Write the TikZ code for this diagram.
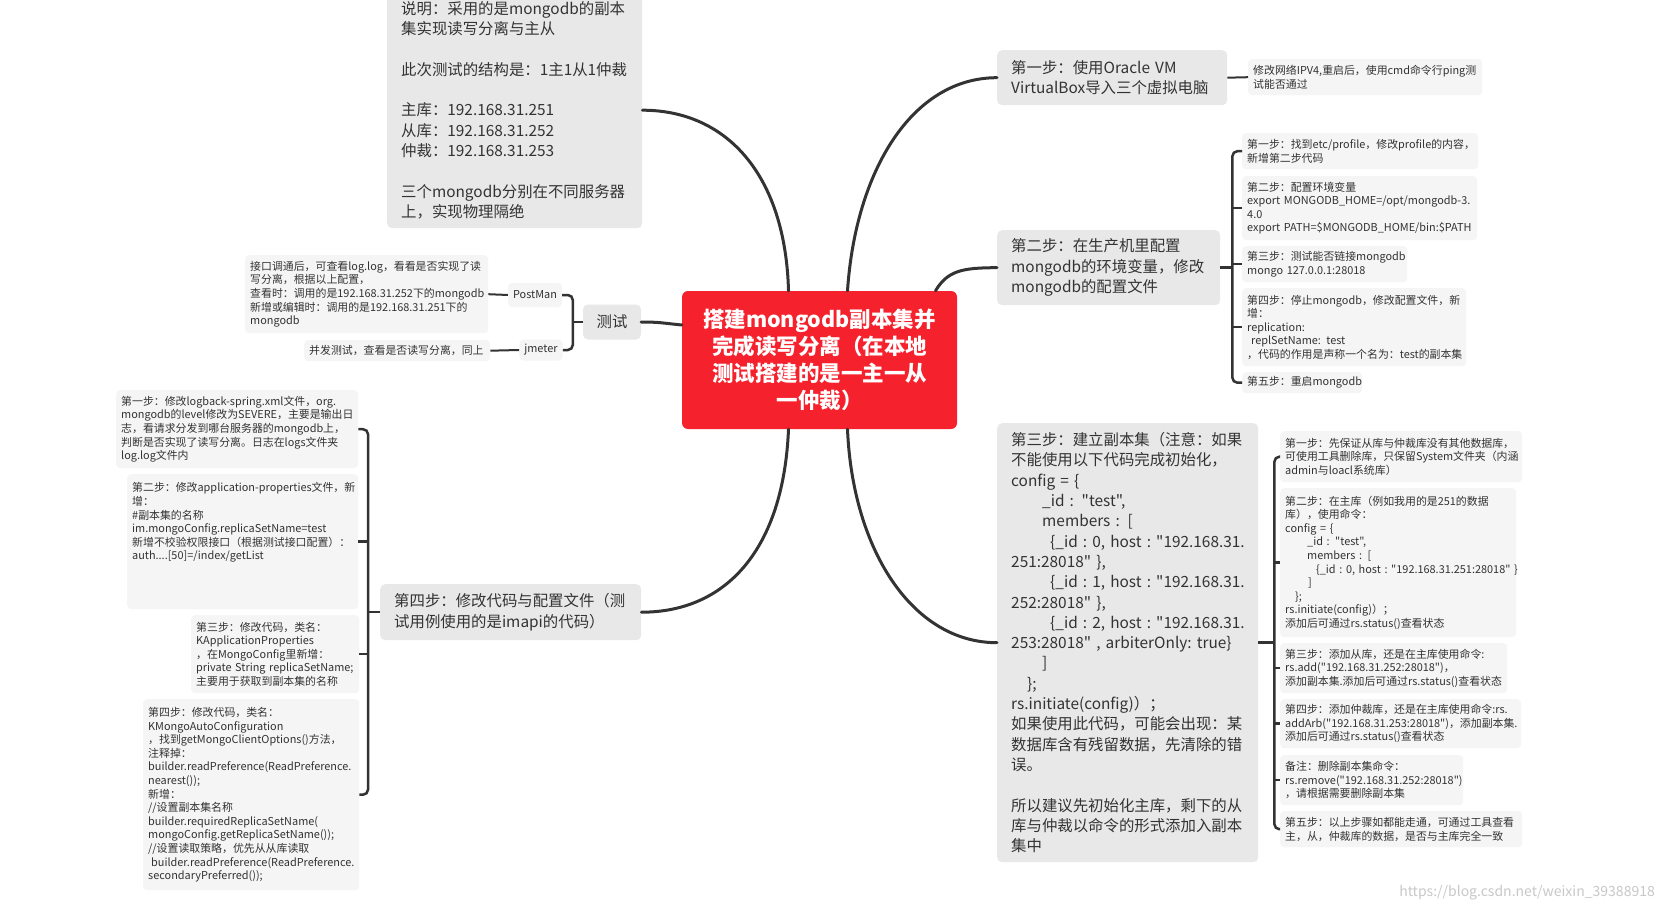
\documentclass[tikz,border=0pt]{standalone}
\usepackage{fontspec}
\setmainfont{Noto Sans CJK SC}[Ligatures=TeXOff]
\definecolor{txt}{HTML}{333333}
\definecolor{ln}{HTML}{333333}
\definecolor{mainbg}{HTML}{E8E8E8}
\definecolor{notebg}{HTML}{F5F5F5}
\definecolor{redbg}{HTML}{F5222D}
\definecolor{wmc}{HTML}{C8C8C8}
\newcommand{\nohyph}{\hyphenpenalty=10000\exhyphenpenalty=10000\relax}
\newcommand{\smf}{\fontsize{10.9}{13.6}\selectfont\nohyph}
\newcommand{\mdf}{\fontsize{15.4}{20.3}\selectfont\nohyph}
\newcommand{\bl}{\mbox{}}
\begin{document}
\begin{tikzpicture}[x=1pt,y=-1pt,
  mainbox/.style={fill=mainbg, rounded corners=5pt, inner xsep=14pt, inner ysep=6pt, anchor=north west, align=left, font=\mdf, text=txt},
  notebox/.style={fill=notebg, rounded corners=4pt, inner xsep=5pt, inner ysep=3pt, anchor=north west, align=left, font=\smf, text=txt},
  mainln/.style={draw=ln, line width=3pt, line cap=round},
  brk/.style={draw=ln, line width=2.5pt},
  nl/.style={draw=ln, line width=2pt}]
\useasboundingbox (0,0) rectangle (1662,912);
\fill[white] (0,0) rectangle (1662,912);

% centre
\node[fill=redbg, rounded corners=6pt, minimum width=275pt, minimum height=138pt, text width=262pt, align=center, inner sep=0pt, font=\fontsize{21.5}{27}\selectfont\bfseries, text=white] (ctr) at (819.5,360) {搭建mongodb副本集并\\完成读写分离（在本地\\测试搭建的是一主一从\\一仲裁）};

% main branches
\node[mainbox, text width=227pt, minimum height=236pt] (sm) at (387,-8) {说明：采用的是mongodb的副本\\集实现读写分离与主从\\\bl\\此次测试的结构是：1主1从1仲裁\\\bl\\主库：192.168.31.251\\从库：192.168.31.252\\仲裁：192.168.31.253\\\bl\\三个mongodb分别在不同服务器\\上，实现物理隔绝};

\node[mainbox, text width=202pt, minimum height=55pt] (er1) at (997,50) {第一步：使用Oracle VM\\VirtualBox导入三个虚拟电脑};

\node[mainbox, text width=195pt, minimum height=75pt] (er2) at (997,230) {第二步：在生产机里配置\\mongodb的环境变量，修改\\mongodb的配置文件};

\node[mainbox, text width=233pt, minimum height=439pt] (er3) at (997,423) {第三步：建立副本集（注意：如果\\不能使用以下代码完成初始化，\\config = \{\\\hspace*{31pt}\_id : "test",\\\hspace*{31pt}members : [\\\hspace*{39pt}\{\_id~:~0,~host~:~"192.168.31.\\251:28018" \},\\\hspace*{39pt}\{\_id~:~1,~host~:~"192.168.31.\\252:28018" \},\\\hspace*{39pt}\{\_id~:~2,~host~:~"192.168.31.\\253:28018"~,~arbiterOnly:~true\}\\\hspace*{31pt}]\\\hspace*{16pt}\};\\rs.initiate(config)）；\\如果使用此代码，可能会出现：某\\数据库含有残留数据，先清除的错\\误。\\\bl\\所以建议先初始化主库，剩下的从\\库与仲裁以命令的形式添加入副本\\集中};

\node[mainbox, text width=233pt, minimum height=56pt] (er4) at (380,584) {第四步：修改代码与配置文件（测\\试用例使用的是imapi的代码）};

\node[mainbox, anchor=center, align=center, inner xsep=12pt, minimum height=35pt, minimum width=58pt] (ce) at (612,322) {测试};

% notes: step 1
\node[notebox, text width=224pt, minimum height=36pt] (n1) at (1248,59) {修改网络IPV4,重启后，使用cmd命令行ping测\\试能否通过};

% notes: step 2
\node[notebox, text width=226pt, minimum height=36pt] (c1) at (1242,133) {第一步：找到etc/profile，修改profile的内容，\\新增第二步代码};
\node[notebox, text width=225pt, minimum height=64pt] (c2) at (1242,176) {第二步：配置环境变量\\export~MONGODB\_HOME=/opt/mongodb-3.\\4.0\\export~PATH=\$MONGODB\_HOME/bin:\$PATH};
\node[notebox, text width=155pt, minimum height=36pt] (c3) at (1242,246) {第三步：测试能否链接mongodb\\mongo 127.0.0.1:28018};
\node[notebox, text width=214pt, minimum height=78pt] (c4) at (1242,288) {第四步：停止mongodb，修改配置文件，新\\增：\\replication:\\\hspace*{4pt}replSetName: test\\，代码的作用是声称一个名为：test的副本集};
\node[notebox, text width=110pt, minimum height=21pt] (c5) at (1242,372) {第五步：重启mongodb};

% notes: step 3
\node[notebox, text width=232pt, minimum height=51pt] (d1) at (1280,431) {第一步：先保证从库与仲裁库没有其他数据库，\\可使用工具删除库，只保留System文件夹（内涵\\admin与loacl系统库）};
\node[notebox, text width=226pt, minimum height=149pt] (d2) at (1280,488) {第二步：在主库（例如我用的是251的数据\\库），使用命令：\\config = \{\\\hspace*{22pt}\_id : "test",\\\hspace*{22pt}members : [\\\hspace*{31pt}\{\_id~:~0,~host~:~"192.168.31.251:28018"~\}\\\hspace*{23pt}]\\\hspace*{10pt}\};\\rs.initiate(config)）；\\添加后可通过rs.status()查看状态};
\node[notebox, text width=217pt, minimum height=50pt] (d3) at (1280,643) {第三步：添加从库，还是在主库使用命令:\\rs.add("192.168.31.252:28018")，\\添加副本集.添加后可通过rs.status()查看状态};
\node[notebox, text width=231pt, minimum height=49pt] (d4) at (1280,699) {第四步：添加仲裁库，还是在主库使用命令:rs.\\addArb("192.168.31.253:28018")，添加副本集.\\添加后可通过rs.status()查看状态};
\node[notebox, text width=173pt, minimum height=50pt] (d5) at (1280,755) {备注：删除副本集命令：\\rs.remove("192.168.31.252:28018")\\，请根据需要删除副本集};
\node[notebox, text width=232pt, minimum height=36pt] (d6) at (1280,811) {第五步：以上步骤如都能走通，可通过工具查看\\主，从，仲裁库的数据，是否与主库完全一致};

% notes: step 4
\node[notebox, text width=232pt, minimum height=78pt] (l1) at (116,390) {第一步：修改logback-spring.xml文件，org.\\mongodb的level修改为SEVERE，主要是输出日\\志，看请求分发到哪台服务器的mongodb上，\\判断是否实现了读写分离。日志在logs文件夹\\log.log文件内};
\node[notebox, text width=221pt, minimum height=135pt] (l2) at (127,474) {第二步：修改application-properties文件，新\\增：\\\#副本集的名称\\im.mongoConfig.replicaSetName=test\\新增不校验权限接口（根据测试接口配置）：\\auth....[50]=/index/getList\\\bl\\\bl\\\bl};
\node[notebox, text width=158pt, minimum height=78pt] (l3) at (191,615) {第三步：修改代码，类名：\\KApplicationProperties\\，在MongoConfig里新增：\\private~String~replicaSetName;\\主要用于获取到副本集的名称};
\node[notebox, text width=206pt, minimum height=191pt] (l4) at (143,699) {第四步：修改代码，类名：\\KMongoAutoConfiguration\\，找到getMongoClientOptions()方法，\\注释掉：\\builder.readPreference(ReadPreference.\\nearest());\\新增：\\//设置副本集名称\\builder.requiredReplicaSetName(\\mongoConfig.getReplicaSetName());\\//设置读取策略，优先从从库读取\\\hspace*{3pt}builder.readPreference(ReadPreference.\\secondaryPreferred());};

% notes: test
\node[notebox, anchor=center, align=center, text width=, minimum height=24pt] (pm) at (535,295) {PostMan};
\node[notebox, anchor=center, align=center, text width=, minimum height=21pt] (jm) at (541,350) {jmeter};
\node[notebox, text width=233pt, minimum height=78pt] (pmn) at (245,255) {接口调通后，可查看log.log，看看是否实现了读\\写分离，根据以上配置，\\查看时：调用的是192.168.31.252下的mongodb\\新增或编辑时：调用的是192.168.31.251下的\\mongodb};
\node[notebox, text width=176pt, minimum height=21pt] (jmn) at (304,340) {并发测试，查看是否读写分离，同上};

% watermark
\node[anchor=east, text=wmc, font=\fontsize{14}{16}\selectfont, inner sep=0pt] (wm) at (1655,893) {https://blog.csdn.net/weixin\_39388918};

% connection points on the centre
\coordinate (ptl) at ([xshift=-31pt]ctr.north);
\coordinate (ptr) at ([xshift=28pt]ctr.north);
\coordinate (prt) at ([xshift=116pt]ctr.north);
\coordinate (pbl) at ([xshift=-31pt]ctr.south);
\coordinate (pbr) at ([xshift=28pt]ctr.south);
\coordinate (plf) at ([yshift=35pt]ctr.west);

% main curves
\draw[mainln] (sm.east) .. controls +(85,0) and +(-3,-115) .. (ptl);
\draw[mainln] (ptr) .. controls +(8,-120) and +(-85,0) .. (er1.west);
\draw[mainln] (prt) .. controls +(12,-20) and +(-35,0) .. (er2.west);
\draw[mainln] (pbr) .. controls +(5,120) and +(-85,0) .. (er3.west);
\draw[mainln] (pbl) .. controls +(-5,120) and +(85,0) .. (er4.east);
\draw[mainln] (plf) .. controls +(-20,-2) and +(18,0) .. (ce.east);

% step 1 note
\draw[nl] (er1.east) -- (n1.west);

% step 2 bracket
\coordinate (b2) at ([xshift=12pt]er2.east);
\draw[brk] (er2.east) -- (b2);
\draw[brk, rounded corners=5pt] (c1.west) -| (b2) |- (c5.west);
\draw[brk] (b2 |- c2.west) -- (c2.west);
\draw[brk] (b2 |- c3.west) -- (c3.west);
\draw[brk] (b2 |- c4.west) -- (c4.west);

% step 3 bracket
\coordinate (b3) at ([xshift=16pt]er3.east);
\draw[brk] (er3.east) -- (b3);
\draw[brk, rounded corners=5pt] (d1.west) -| (b3) |- (d6.west);
\draw[brk] (b3 |- d2.west) -- (d2.west);
\draw[brk] (b3 |- d3.west) -- (d3.west);
\draw[brk] (b3 |- d4.west) -- (d4.west);
\draw[brk] (b3 |- d5.west) -- (d5.west);

% step 4 bracket
\coordinate (b4) at ([xshift=-12pt]er4.west);
\draw[brk] (er4.west) -- (b4);
\draw[brk, rounded corners=5pt] (l1.east) -| (b4) |- (l4.east);
\draw[brk] (b4 |- l2.east) -- (l2.east);
\draw[brk] (b4 |- l3.east) -- (l3.east);

% test bracket
\coordinate (bt) at ([xshift=-10pt]ce.west);
\draw[brk] (ce.west) -- (bt);
\draw[brk, rounded corners=5pt] (pm.east) -| (bt) |- (jm.east);
\draw[nl] (pmn.east) -- (pm.west);
\draw[nl] (jmn.east) -- (jm.west);
\end{tikzpicture}
\end{document}
